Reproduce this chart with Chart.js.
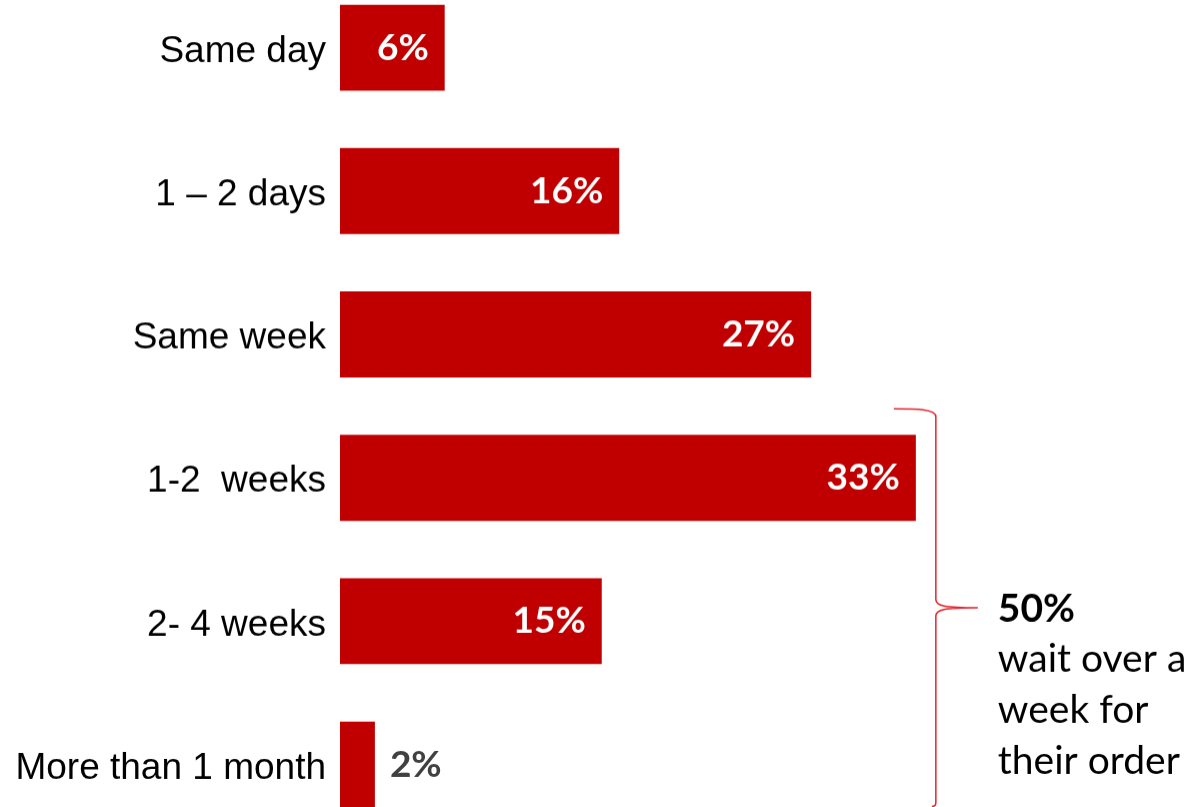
<!DOCTYPE html>
<html>
<head>
<meta charset="utf-8">
<script src="https://cdn.jsdelivr.net/npm/chart.js@4"></script>
<style>
  html, body { margin: 0; padding: 0; background: #fff; overflow: hidden; }
  #wrap { position: absolute; left: 0; top: -23.6px; width: 1191px; height: 859.2px; }
</style>
</head>
<body>
<div id="wrap"><canvas id="grafico"></canvas></div>
<script>
const categorias = ['Same day', '1 \u2013 2 days', 'Same week', '1-2  weeks', '2- 4 weeks', 'More than 1 month'];
const porcentajes = [6, 16, 27, 33, 15, 2];
const notaTitulo = '50%';
const notaLineas = ['wait over a', 'week for', 'their order'];
const indicesNota = [3, 4, 5];

const rojo = '#C00000';

// etiquetas de valor en las barras
const etiquetasValor = {
    id: 'etiquetasValor',
    afterDatasetsDraw(chart) {
        const ctx = chart.ctx;
        const meta = chart.getDatasetMeta(0);
        ctx.save();
        ctx.font = 'bold 37px Lato';
        ctx.textBaseline = 'middle';
        meta.data.forEach((bar, i) => {
            const txt = porcentajes[i] + '%';
            const w = ctx.measureText(txt).width;
            const ancho = bar.x - bar.base;
            if (ancho > w + 30) {
                ctx.fillStyle = '#ffffff';
                ctx.textAlign = 'right';
                ctx.fillText(txt, bar.x - 16, bar.y);
            } else {
                ctx.fillStyle = '#404040';
                ctx.textAlign = 'left';
                ctx.fillText(txt, bar.x + 15, bar.y);
            }
        });
        ctx.restore();
    }
};

// llave y nota a la derecha
const llave = {
    id: 'llave',
    afterDraw(chart) {
        const ctx = chart.ctx;
        const meta = chart.getDatasetMeta(0);
        const xs = chart.scales.x;
        const primera = meta.data[indicesNota[0]];
        const ultima = meta.data[indicesNota[indicesNota.length - 1]];
        const maxVal = Math.max(...indicesNota.map(i => porcentajes[i]));
        const xv = xs.getPixelForValue(maxVal) + 20;
        const top = primera.y - primera.height / 2 - 26;
        const bottom = ultima.y + ultima.height / 2 - 1;
        const mid = (top + bottom) / 2;
        ctx.save();
        ctx.strokeStyle = '#E3242B';
        ctx.lineWidth = 1.5;
        ctx.beginPath();
        ctx.moveTo(xv - 42, top);
        ctx.bezierCurveTo(xv - 20, top, xv, top, xv, top + 8);
        ctx.lineTo(xv, mid - 8);
        ctx.bezierCurveTo(xv, mid - 2, xv + 8, mid, xv + 42, mid);
        ctx.moveTo(xv + 42, mid);
        ctx.bezierCurveTo(xv + 8, mid, xv, mid + 2, xv, mid + 8);
        ctx.lineTo(xv, bottom - 4);
        ctx.bezierCurveTo(xv, bottom - 1, xv - 2, bottom, xv - 4, bottom);
        ctx.stroke();

        const tx = xv + 62;
        ctx.fillStyle = '#000000';
        ctx.textAlign = 'left';
        ctx.textBaseline = 'alphabetic';
        ctx.font = 'bold 39px Lato';
        ctx.fillText(notaTitulo, tx, mid + 14.5);
        ctx.font = '39px Lato';
        notaLineas.forEach((l, i) => ctx.fillText(l, tx, mid + 64.5 + i * 51));
        ctx.restore();
    }
};

const ctxBar = document.getElementById('grafico').getContext('2d');
new Chart(ctxBar, {
    type: 'bar',
    data: {
        labels: categorias,
        datasets: [{
            data: porcentajes,
            backgroundColor: rojo,
            borderWidth: 0,
            barPercentage: 0.6,
            categoryPercentage: 1
        }]
    },
    options: {
        indexAxis: 'y',
        responsive: true,
        maintainAspectRatio: false,
        animation: false,
        layout: { padding: { left: 0, right: 153, top: 0, bottom: 0 } },
        plugins: { legend: { display: false }, tooltip: { enabled: false } },
        scales: {
            x: { display: false, min: 0, max: 40 },
            y: {
                grid: { display: false, drawTicks: false },
                border: { display: false },
                ticks: {
                    color: '#000000',
                    padding: 14,
                    labelOffset: 4,
                    font: { family: 'Liberation Sans', size: 37 }
                },
                afterFit(scale) {
                    scale.width = 340;
                    scale.paddingTop = 0;
                    scale.paddingBottom = 0;
                }
            }
        }
    },
    plugins: [etiquetasValor, llave]
});
</script>
</body>
</html>
